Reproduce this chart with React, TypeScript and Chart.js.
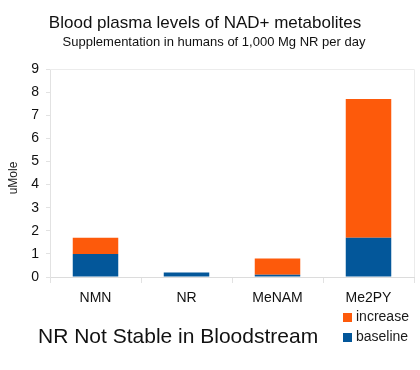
import React, { useEffect, useRef } from "react";
import { Chart, registerables } from "chart.js";

Chart.register(...registerables);

const categories = ["NMN", "NR", "MeNAM", "Me2PY"];
const baselineValues = [1.0, 0.2, 0.1, 1.7];
const increaseValues = [0.7, 0, 0.7, 6.0];
const yTicks = [0, 1, 2, 3, 4, 5, 6, 7, 8, 9];

const titleText = "Blood plasma levels of NAD+ metabolites";
const subtitleText = "Supplementation in humans of 1,000 Mg NR per day";
const yAxisTitle = "uMole";
const footerText = "NR Not Stable in Bloodstream";

const BLUE = "#03579a";
const ORANGE = "#fd5a0b";
const FONT = "'Liberation Sans', Arial, sans-serif";

const decorPlugin = {
  id: "decor",
  afterDraw(chart: any) {
    const ctx = chart.ctx;
    const area = chart.chartArea;
    ctx.save();
    // top & right border
    ctx.strokeStyle = "#ececec";
    ctx.lineWidth = 1;
    ctx.beginPath();
    ctx.moveTo(area.left, area.top + 0.5);
    ctx.lineTo(area.right + 0.5, area.top + 0.5);
    ctx.lineTo(area.right + 0.5, area.bottom);
    ctx.stroke();

    ctx.fillStyle = "#111";
    ctx.textBaseline = "alphabetic";
    ctx.textAlign = "center";
    ctx.font = `17px ${FONT}`;
    ctx.fillText(titleText, 205, 28);
    ctx.font = `13px ${FONT}`;
    ctx.fillText(subtitleText, 214, 45.5);

    // y axis title
    ctx.save();
    ctx.translate(13.5, 178);
    ctx.rotate(-Math.PI / 2);
    ctx.font = `12px ${FONT}`;
    ctx.textBaseline = "middle";
    ctx.fillStyle = "#222";
    ctx.fillText(yAxisTitle, 0, 0);
    ctx.restore();

    // footer
    ctx.textAlign = "left";
    ctx.font = `21px ${FONT}`;
    ctx.fillStyle = "#111";
    ctx.fillText(footerText, 38, 343);

    // legend (reverse order: increase on top)
    const ds = chart.data.datasets;
    const items = [ds[1], ds[0]];
    ctx.font = `14px ${FONT}`;
    ctx.textBaseline = "middle";
    items.forEach((d: any, i: number) => {
      const y = 313 + i * 20;
      ctx.fillStyle = d.backgroundColor;
      ctx.fillRect(343, y, 9, 9);
      ctx.fillStyle = "#1a1a1a";
      ctx.fillText(d.label, 356, y + 4.5);
    });
    ctx.restore();
  },
};

export default function App() {
  const canvasRef = useRef<HTMLCanvasElement | null>(null);

  useEffect(() => {
    if (!canvasRef.current) return;
    const chart = new Chart(canvasRef.current, {
      type: "bar",
      data: {
        labels: categories,
        datasets: [
          {
            label: "baseline",
            data: baselineValues,
            backgroundColor: BLUE,
            barPercentage: 0.5,
            categoryPercentage: 1,
          },
          {
            label: "increase",
            data: increaseValues,
            backgroundColor: ORANGE,
            barPercentage: 0.5,
            categoryPercentage: 1,
          },
        ],
      },
      options: {
        animation: false,
        responsive: false,
        layout: { padding: { top: 69, right: 6, left: 0, bottom: 0 } },
        plugins: {
          legend: { display: false },
          title: { display: false },
          tooltip: { enabled: false },
        },
        scales: {
          x: {
            stacked: true,
            afterFit: (scale: any) => {
              scale.height = 93;
            },
            grid: {
              offset: true,
              drawOnChartArea: false,
              color: "#e2e2e2",
              tickLength: 6,
            },
            border: { color: "#dcdcdc" },
            ticks: {
              color: "#111",
              font: { family: FONT, size: 14 },
              padding: 7,
            },
          },
          y: {
            stacked: true,
            min: 0,
            max: 9,
            afterFit: (scale: any) => {
              scale.width = 50;
            },
            afterBuildTicks: (scale: any) => {
              scale.ticks = yTicks.map((v) => ({ value: v }));
            },
            grid: {
              drawOnChartArea: false,
              color: "#e2e2e2",
              tickLength: 4,
            },
            border: { color: "#e2e2e2" },
            ticks: {
              color: "#111",
              font: { family: FONT, size: 14 },
              padding: 7,
            },
          },
        },
      },
      plugins: [decorPlugin],
    });
    return () => chart.destroy();
  }, []);

  return (
    <div style={{ position: "absolute", left: 0, top: 0, width: 420, height: 370, background: "#fff" }}>
      <canvas ref={canvasRef} width={420} height={370} />
    </div>
  );
}
